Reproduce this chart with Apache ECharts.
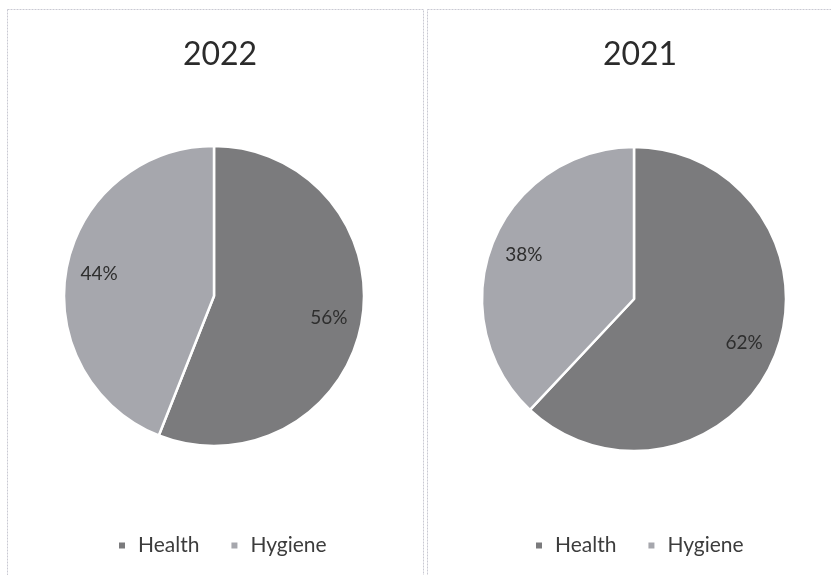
<!DOCTYPE html>
<html>
<head>
<meta charset="utf-8">
<title>Health vs Hygiene</title>
<script src="https://cdn.jsdelivr.net/npm/echarts@6/dist/echarts.min.js"></script>
<style>
  html, body { margin: 0; padding: 0; background: #ffffff; }
  #chart { width: 831px; height: 575px; }
</style>
</head>
<body>
<div id="chart"></div>
<script>
// Categories and yearly shares (percent)
const categories = ['Health', 'Hygiene'];
const years = ['2022', '2021'];
const share2022 = [56, 44];
const share2021 = [62, 38];

const colors = ['#7b7b7d', '#a6a7ad'];
const font = 'Lato, "Open Sans", sans-serif';

// Panel geometry: pie centres and radii
const panels = [
  { year: years[0], values: share2022, cx: 214, cy: 296, r: 150, box: [7, 9, 416, 575] },
  { year: years[1], values: share2021, cx: 634, cy: 299, r: 152, box: [427, 9, 420, 575] }
];

function toData(values) {
  return categories.map((name, i) => ({ name, value: values[i] }));
}

const series = [];
const titles = [];
const legends = [];
const graphics = [];

panels.forEach((p, idx) => {
  // Filled slices, white gap between them
  series.push({
    type: 'pie',
    name: p.year,
    center: [p.cx, p.cy],
    radius: [0, p.r],
    startAngle: 90,
    clockwise: true,
    silent: true,
    label: { show: false },
    labelLine: { show: false },
    itemStyle: { borderColor: '#ffffff', borderWidth: 2.5 },
    data: toData(p.values)
  });
  // Percentage labels, placed about three quarters of the way out
  series.push({
    type: 'pie',
    name: p.year + ' labels',
    center: [p.cx, p.cy],
    radius: [p.r * 0.52, p.r],
    startAngle: 90,
    clockwise: true,
    silent: true,
    legendHoverLink: false,
    itemStyle: { color: 'rgba(0,0,0,0)', borderWidth: 0 },
    label: {
      show: true,
      position: 'inside',
      formatter: '{c}%',
      fontFamily: font,
      fontSize: 19,
      color: '#2e2e2e'
    },
    labelLine: { show: false },
    emphasis: { disabled: true },
    data: toData(p.values)
  });

  titles.push({
    text: p.year,
    left: p.cx + 1,
    top: 34,
    textAlign: 'center',
    textStyle: { fontFamily: font, fontSize: 32, fontWeight: 'normal', color: '#2b2b2b' }
  });

  legends.push({
    data: categories,
    left: idx === 0 ? 112 : 529,
    top: 530,
    orient: 'horizontal',
    icon: 'rect',
    itemWidth: 8,
    itemHeight: 8,
    itemGap: 30,
    textStyle: { fontFamily: font, fontSize: 21, color: '#3c3c3c', padding: [0, 0, 0, 7] },
    selectedMode: false
  });

  const b = p.box;
  graphics.push({
    type: 'rect',
    shape: { x: b[0] + 0.5, y: b[1] + 0.5, width: b[2], height: b[3] },
    style: { fill: null, stroke: '#c9c9d2', lineWidth: 1, lineDash: [2, 1] },
    silent: true
  });
});

const chart = echarts.init(document.getElementById('chart'), null, { renderer: 'canvas' });
chart.setOption({
  backgroundColor: '#ffffff',
  animation: false,
  color: colors,
  title: titles,
  legend: legends,
  graphic: graphics,
  series: series
});
</script>
</body>
</html>
